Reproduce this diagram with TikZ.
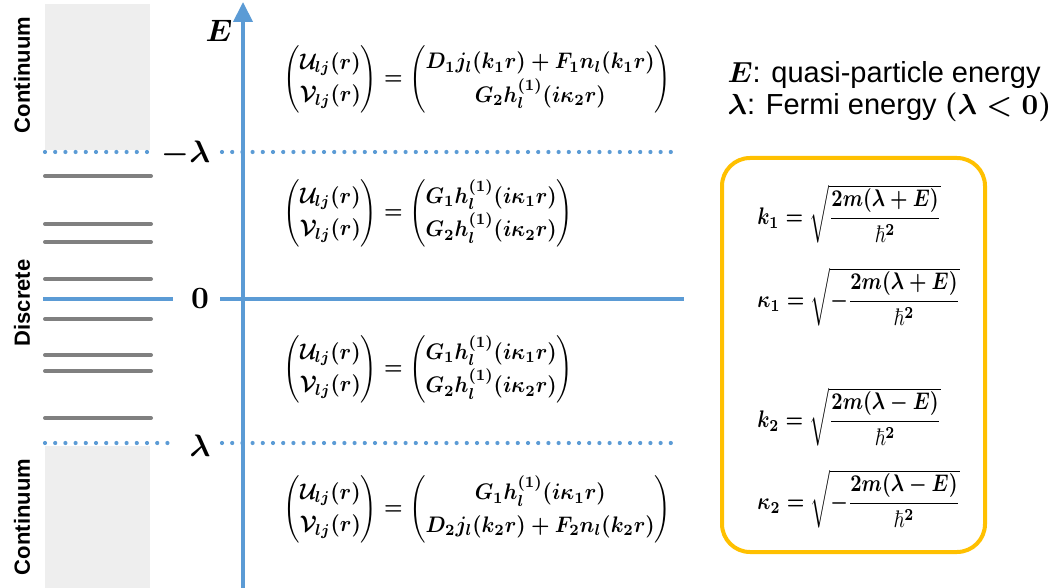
\documentclass[tikz,border=0pt]{standalone}
\usepackage{amsmath, amssymb, bm}
\usepackage[no-math]{fontspec}
\newfontfamily\arialfont{Liberation Sans}
\usetikzlibrary{positioning, arrows.meta, calc}
\definecolor{axisblue}{RGB}{91, 155, 213}
\definecolor{levelgray}{RGB}{128, 128, 128}
\definecolor{boxorange}{RGB}{255, 192, 0}
\definecolor{stripgray}{RGB}{238, 238, 238}
\newcommand{\UV}{\begin{pmatrix}\mathcal{U}_{lj}(r)\\ \mathcal{V}_{lj}(r)\end{pmatrix}}
\tikzset{
  lvl/.style={draw=levelgray, line width=4pt, line cap=round},
  fermi/.style={draw=axisblue, line width=4.2pt, line cap=round,
                dash pattern=on 0pt off 10.2pt},
  zeroline/.style={draw=axisblue, line width=4pt},
  region/.style={font=\arialfont\bfseries\fontsize{22}{24}\selectfont, rotate=90},
  wf/.style={anchor=west, inner sep=0pt, xscale=2.08, yscale=2.25,
             font=\boldmath\def\arraystretch{1.2}},
  kq/.style={anchor=west, inner sep=0pt, xscale=1.97, yscale=2.4, font=\boldmath},
  elbl/.style={font=\boldmath, inner sep=0pt, scale=3.1},
  kframe/.style={draw=boxorange, line width=4pt, rounded corners=28pt},
}
\begin{document}
\begin{tikzpicture}[x=1pt, y=-1pt]
  \useasboundingbox (0, 0) rectangle (1057, 588);
  % continuum strips
  \fill[stripgray] (45, 4) rectangle (150, 150);
  \fill[stripgray] (45, 446) rectangle (150, 588);
  \node[region] (contup) at (22, 75) {Continuum};
  \node[region] (disc) at (22, 303) {Discrete};
  \node[region] (contdn) at (22, 517) {Continuum};
  % bound levels
  \foreach \yy in {176, 224, 242, 279, 319, 355, 371, 418}
    \draw[lvl] (45, \yy) -- (151, \yy);
  % energy axis
  \coordinate (axbot) at (243, 588);
  \coordinate (axtop) at (243, 2);
  \draw[axisblue, line width=4pt, -{Triangle[length=20pt, width=19pt]}] (axbot) -- (axtop);
  \node[elbl] (elab) at (219, 31) {$E$};
  % thresholds
  \node[elbl] (lamneg) at (186, 154) {$-\lambda$};
  \node[elbl] (zero) at (200, 299) {$\mathbf{0}$};
  \node[elbl] (lampos) at (200, 446) {$\lambda$};
  \draw[fermi] (45, 152) -- (150, 152);
  \draw[fermi] (222, 152) -- (680, 152);
  \draw[zeroline] (43, 299) -- (173, 299);
  \draw[zeroline] (220, 299) -- (684, 299);
  \draw[fermi] (45, 443) -- (168, 443);
  \draw[fermi] (222, 443) -- (680, 443);
  % wave functions in each region
  \node[wf] (wfa) at (283, 79) {$\UV=\begin{pmatrix}D_1j_l(k_1r)+F_1n_l(k_1r)\\ G_2h_l^{(1)}(i\kappa_2r)\end{pmatrix}$};
  \node[wf] (wfb) at (283, 213) {$\UV=\begin{pmatrix}G_1h_l^{(1)}(i\kappa_1r)\\ G_2h_l^{(1)}(i\kappa_2r)\end{pmatrix}$};
  \node[wf] (wfc) at (283, 369) {$\UV=\begin{pmatrix}G_1h_l^{(1)}(i\kappa_1r)\\ G_2h_l^{(1)}(i\kappa_2r)\end{pmatrix}$};
  \node[wf] (wfd) at (283, 509) {$\UV=\begin{pmatrix}G_1h_l^{(1)}(i\kappa_1r)\\ D_2j_l(k_2r)+F_2n_l(k_2r)\end{pmatrix}$};
  % legend
  \node[anchor=west, align=left, inner sep=0pt, scale=2.9, font=\arialfont\fontsize{10}{11}\selectfont]
    (legend) at (727, 92) {{\boldmath$E$}: quasi-particle energy\\ {\boldmath$\lambda$}: Fermi energy {\boldmath$(\lambda<0)$}};
  % wave numbers
  \node[kframe, minimum width=263pt, minimum height=394pt] (kbox) at (853.5, 355) {};
  \node[kq] (ka) at (757, 214) {$k_1=\sqrt{\dfrac{2m(\lambda+E)}{\hbar^2}}$};
  \node[kq] (kb) at (757, 297) {$\kappa_1=\sqrt{-\dfrac{2m(\lambda+E)}{\hbar^2}}$};
  \node[kq] (kc) at (757, 417) {$k_2=\sqrt{\dfrac{2m(\lambda-E)}{\hbar^2}}$};
  \node[kq] (kd) at (757, 499) {$\kappa_2=\sqrt{-\dfrac{2m(\lambda-E)}{\hbar^2}}$};
\end{tikzpicture}
\end{document}
